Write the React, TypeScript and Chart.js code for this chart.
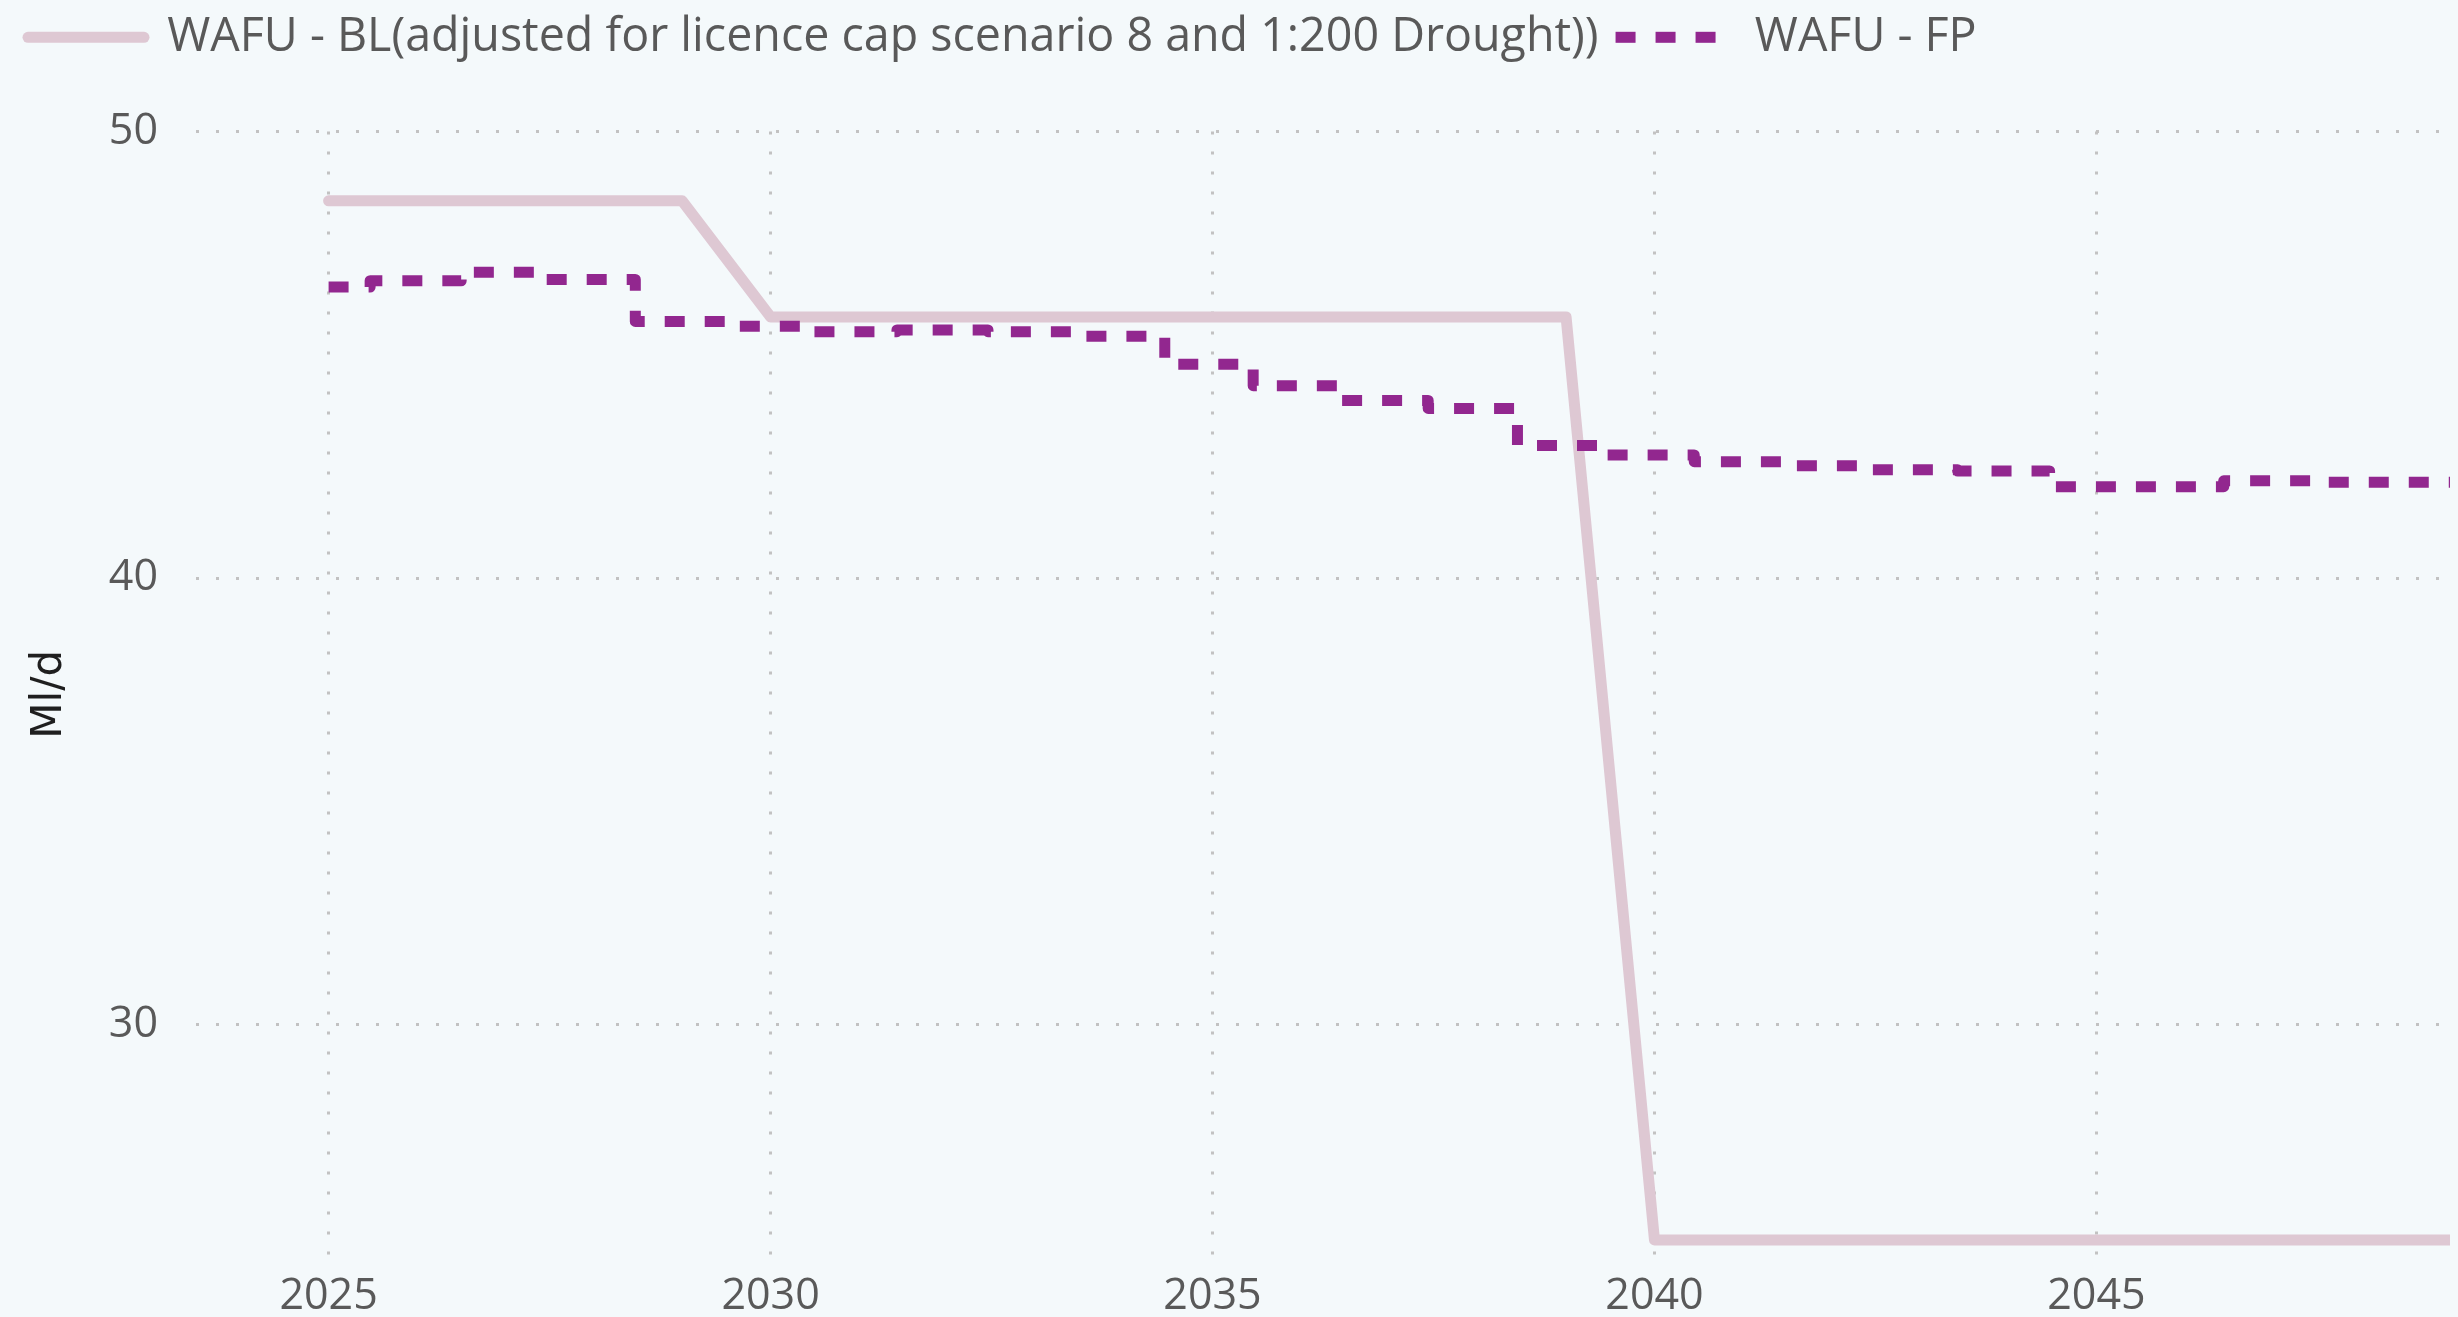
import React, { useEffect, useRef } from 'react';
import Chart from 'chart.js/auto';

const blLabel = 'WAFU - BL(adjusted for licence cap scenario 8 and 1:200 Drought))';
const fpLabel = 'WAFU - FP';

const blYears = [2025, 2026, 2027, 2028, 2029, 2030, 2031, 2032, 2033, 2034, 2035, 2036, 2037, 2038, 2039, 2040, 2041, 2042, 2043, 2044, 2045, 2046, 2047, 2048, 2049];
const blValues = [48.45, 48.45, 48.45, 48.45, 48.45, 45.85, 45.85, 45.85, 45.85, 45.85, 45.85, 45.85, 45.85, 45.85, 45.85, 25.18, 25.18, 25.18, 25.18, 25.18, 25.18, 25.18, 25.18, 25.18, 25.18];

const fpYears = [2025, 2025.47, 2026.5, 2027.42, 2028.47, 2029.52, 2030.4, 2031.43, 2032.46, 2033.47, 2034.46, 2035.46, 2036.44, 2037.44, 2038.45, 2039.42, 2040.45, 2041.48, 2042.43, 2043.43, 2044.47, 2046.44, 2047.5, 2049];
const fpValues = [46.52, 46.66, 46.85, 46.69, 45.75, 45.64, 45.52, 45.56, 45.52, 45.42, 44.79, 44.31, 43.98, 43.8, 42.97, 42.76, 42.61, 42.52, 42.43, 42.4, 42.05, 42.18, 42.15, 42.15];

const xTicks = [2025, 2030, 2035, 2040, 2045];
const yTicks = [30, 40, 50];
const yTitle = 'Ml/d';

const textColor = '#595959';
const tickFont = { family: 'Open Sans', size: 43 };

export default function App() {
  const ref = useRef<HTMLCanvasElement>(null);

  useEffect(() => {
    const canvas = ref.current;
    if (!canvas) return;
    const chart = new Chart(canvas, {
      type: 'line',
      data: {
        datasets: [
          {
            label: blLabel,
            data: blYears.map((x, i) => ({ x, y: blValues[i] })),
            borderColor: '#dec8d3',
            backgroundColor: '#dec8d3',
            borderWidth: 11,
            borderCapStyle: 'round',
            borderJoinStyle: 'round',
            pointRadius: 0,
            fill: false,
            order: 1,
          },
          {
            label: fpLabel,
            data: fpYears.map((x, i) => ({ x, y: fpValues[i] })),
            borderColor: '#92278f',
            backgroundColor: '#92278f',
            borderWidth: 11,
            borderDash: [20, 20],
            borderCapStyle: 'butt',
            borderJoinStyle: 'round',
            stepped: 'before',
            pointRadius: 0,
            fill: false,
            order: 0,
          },
        ],
      },
      options: {
        animation: false,
        responsive: true,
        maintainAspectRatio: false,
        layout: { padding: { left: 11, right: 8, top: 0, bottom: 0 } },
        plugins: {
          tooltip: { enabled: false },
          legend: {
            position: 'top',
            align: 'start',
            labels: {
              usePointStyle: true,
              pointStyleWidth: 116,
              padding: 17,
              color: textColor,
              font: { family: 'Open Sans', size: 46.6 },
              generateLabels: (ch: any) =>
                ch.data.datasets.map((ds: any, i: number) => ({
                  text: ds.label,
                  datasetIndex: i,
                  pointStyle: 'line',
                  strokeStyle: ds.borderColor,
                  fillStyle: ds.borderColor,
                  lineWidth: ds.borderWidth,
                  lineDash: ds.borderDash || [],
                  lineCap: ds.borderCapStyle,
                  lineJoin: 'round',
                  hidden: false,
                  fontColor: textColor,
                })),
            },
          },
          title: {
            display: true,
            text: '',
            position: 'top',
            weight: 500,
            font: { size: 1, lineHeight: 1 },
            padding: { top: 0, bottom: 60 },
          },
        },
        scales: {
          x: {
            type: 'linear',
            min: 2023.5,
            max: 2049,
            afterBuildTicks: (s: any) => {
              s.ticks = xTicks.map((v) => ({ value: v }));
            },
            afterFit: (s: any) => {
              s.height = 60;
            },
            ticks: {
              color: textColor,
              font: tickFont,
              padding: 14,
              maxRotation: 0,
              autoSkip: false,
              callback: (v: any) => String(v),
            },
            grid: { color: '#c2c2c2', lineWidth: 3, drawTicks: false },
            border: { display: false, dash: [3, 17] },
          },
          y: {
            type: 'linear',
            min: 24.8,
            max: 50,
            afterBuildTicks: (s: any) => {
              s.ticks = yTicks.map((v) => ({ value: v }));
            },
            afterFit: (s: any) => {
              s.width = 185;
              s.paddingTop = 0;
              s.paddingBottom = 0;
            },
            ticks: {
              color: textColor,
              font: tickFont,
              padding: 38,
              callback: (v: any) => String(v),
            },
            grid: { color: '#c2c2c2', lineWidth: 3, drawTicks: false },
            border: { display: false, dash: [3, 17] },
            title: {
              display: true,
              text: yTitle,
              color: '#1f1f1f',
              font: { family: 'DejaVu Sans', size: 42 },
              padding: { top: 14, bottom: 0 },
            },
          },
        },
      },
    } as any);
    return () => chart.destroy();
  }, []);

  return (
    <div
      style={{
        position: 'fixed',
        left: 0,
        top: -3,
        width: 2458,
        height: 1320,
        background: '#f4f9fb',
      }}
    >
      <canvas ref={ref} />
    </div>
  );
}
